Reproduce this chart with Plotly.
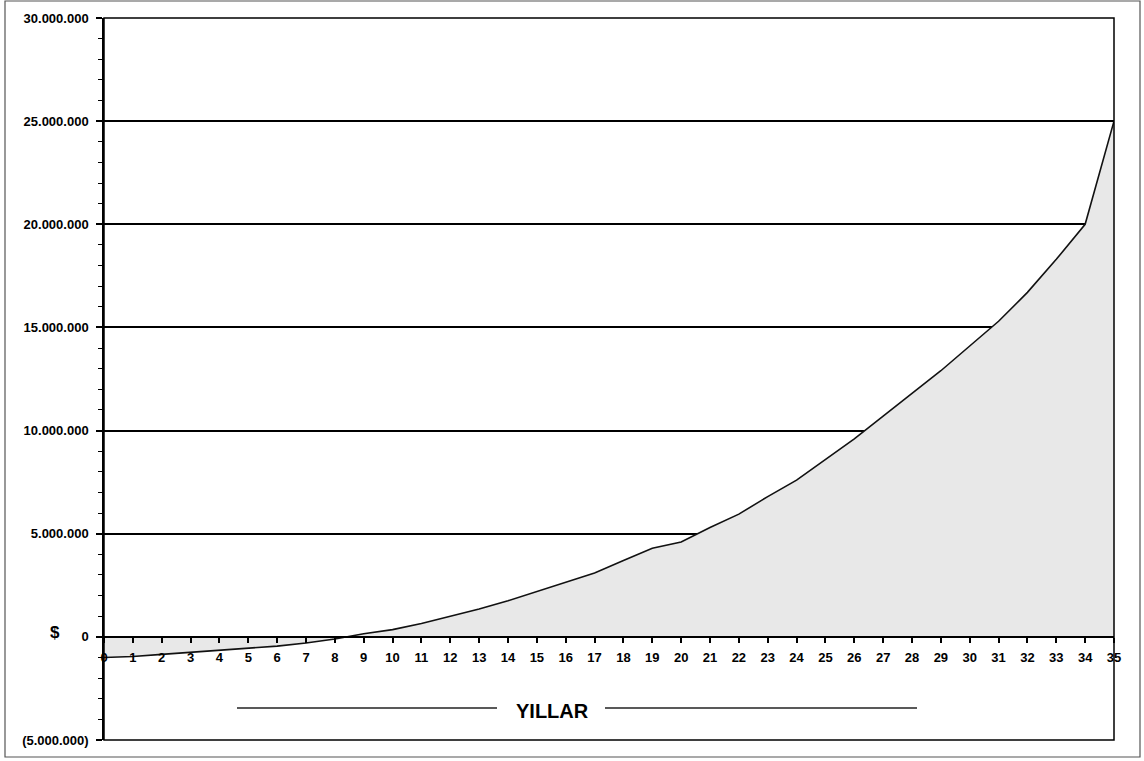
import plotly.graph_objects as go

# ---- data ----
years = list(range(0, 36))
values_m = [-1.0, -0.95, -0.85, -0.75, -0.65, -0.55, -0.45, -0.3, -0.1, 0.15,
            0.35, 0.65, 1.0, 1.35, 1.75, 2.2, 2.65, 3.1, 3.7, 4.3,
            4.6, 5.3, 5.95, 6.8, 7.6, 8.6, 9.6, 10.7, 11.8, 12.9,
            14.1, 15.3, 16.7, 18.3, 20.0, 25.0]
values = [v * 1_000_000 for v in values_m]

y_tick_vals = [-5_000_000, 0, 5_000_000, 10_000_000, 15_000_000, 20_000_000, 25_000_000, 30_000_000]


def fmt(v):
    s = f"{abs(v):,}".replace(",", ".")
    return f"({s})" if v < 0 else s


y_tick_text = [fmt(v) for v in y_tick_vals]
x_tick_text = [str(y) for y in years]

W, H = 1144, 761
L, R, T, B = 104, 30, 18, 21
PW, PH = W - L - R, H - T - B


def px(x):
    return (x - L) / PW


def py(y):
    return (H - B - y) / PH


font_tick = dict(family="Liberation Sans, Arial, sans-serif", size=13, color="black", weight="bold")

fig = go.Figure()
fig.add_trace(go.Scatter(
    x=years, y=values, mode="lines", fill="tozeroy",
    fillcolor="#e8e8e8", line=dict(color="#111111", width=1.6),
    hoverinfo="skip", showlegend=False,
))

fig.update_layout(
    width=W, height=H,
    margin=dict(l=L, r=R, t=T, b=B),
    paper_bgcolor="white", plot_bgcolor="white",
    showlegend=False,
    xaxis=dict(
        range=[0, 35], tickmode="array", tickvals=years, ticktext=x_tick_text,
        anchor="free", position=5 / 35,
        showline=True, linecolor="black", linewidth=1.5,
        ticks="outside", ticklen=5, tickcolor="black", tickwidth=1.5,
        showgrid=False, zeroline=False, tickfont=font_tick,
        tickangle=0, ticklabelstandoff=4,
    ),
    yaxis=dict(
        range=[-5_000_000, 30_000_000], tickmode="array",
        tickvals=y_tick_vals, ticktext=y_tick_text,
        showline=True, linecolor="black", linewidth=1.5,
        ticks="outside", ticklen=6, tickcolor="black", tickwidth=1.5,
        showgrid=True, gridcolor="black", gridwidth=1.5,
        zeroline=False, tickfont=font_tick, ticklabelstandoff=5,
        minor=dict(ticks="outside", ticklen=4, tickcolor="black",
                   dtick=1_000_000, tick0=0, showgrid=False, tickwidth=1.2),
    ),
    shapes=[
        # plot frame
        dict(type="rect", xref="paper", yref="paper", x0=0, y0=0, x1=1, y1=1,
             line=dict(color="black", width=1.5), layer="above"),
        # outer frame
        dict(type="rect", xref="paper", yref="paper",
             x0=px(5), x1=px(1140), y0=py(757), y1=py(1),
             line=dict(color="#555555", width=1.2)),
        # lines around YILLAR
        dict(type="line", xref="paper", yref="paper",
             x0=px(237), x1=px(497), y0=py(708), y1=py(708),
             line=dict(color="#222222", width=1.3)),
        dict(type="line", xref="paper", yref="paper",
             x0=px(605), x1=px(917), y0=py(708), y1=py(708),
             line=dict(color="#222222", width=1.3)),
    ],
    annotations=[
        dict(text="<b>YILLAR</b>", xref="paper", yref="paper",
             x=px(552), y=py(711), xanchor="center", yanchor="middle", showarrow=False,
             font=dict(family="Liberation Sans, Arial, sans-serif", size=20, color="black")),
        dict(text="<b>$</b>", xref="paper", yref="paper",
             x=px(55), y=py(632), xanchor="center", yanchor="middle", showarrow=False,
             font=dict(family="Liberation Sans, Arial, sans-serif", size=17, color="black")),
    ],
)

fig.write_html("out.html")
